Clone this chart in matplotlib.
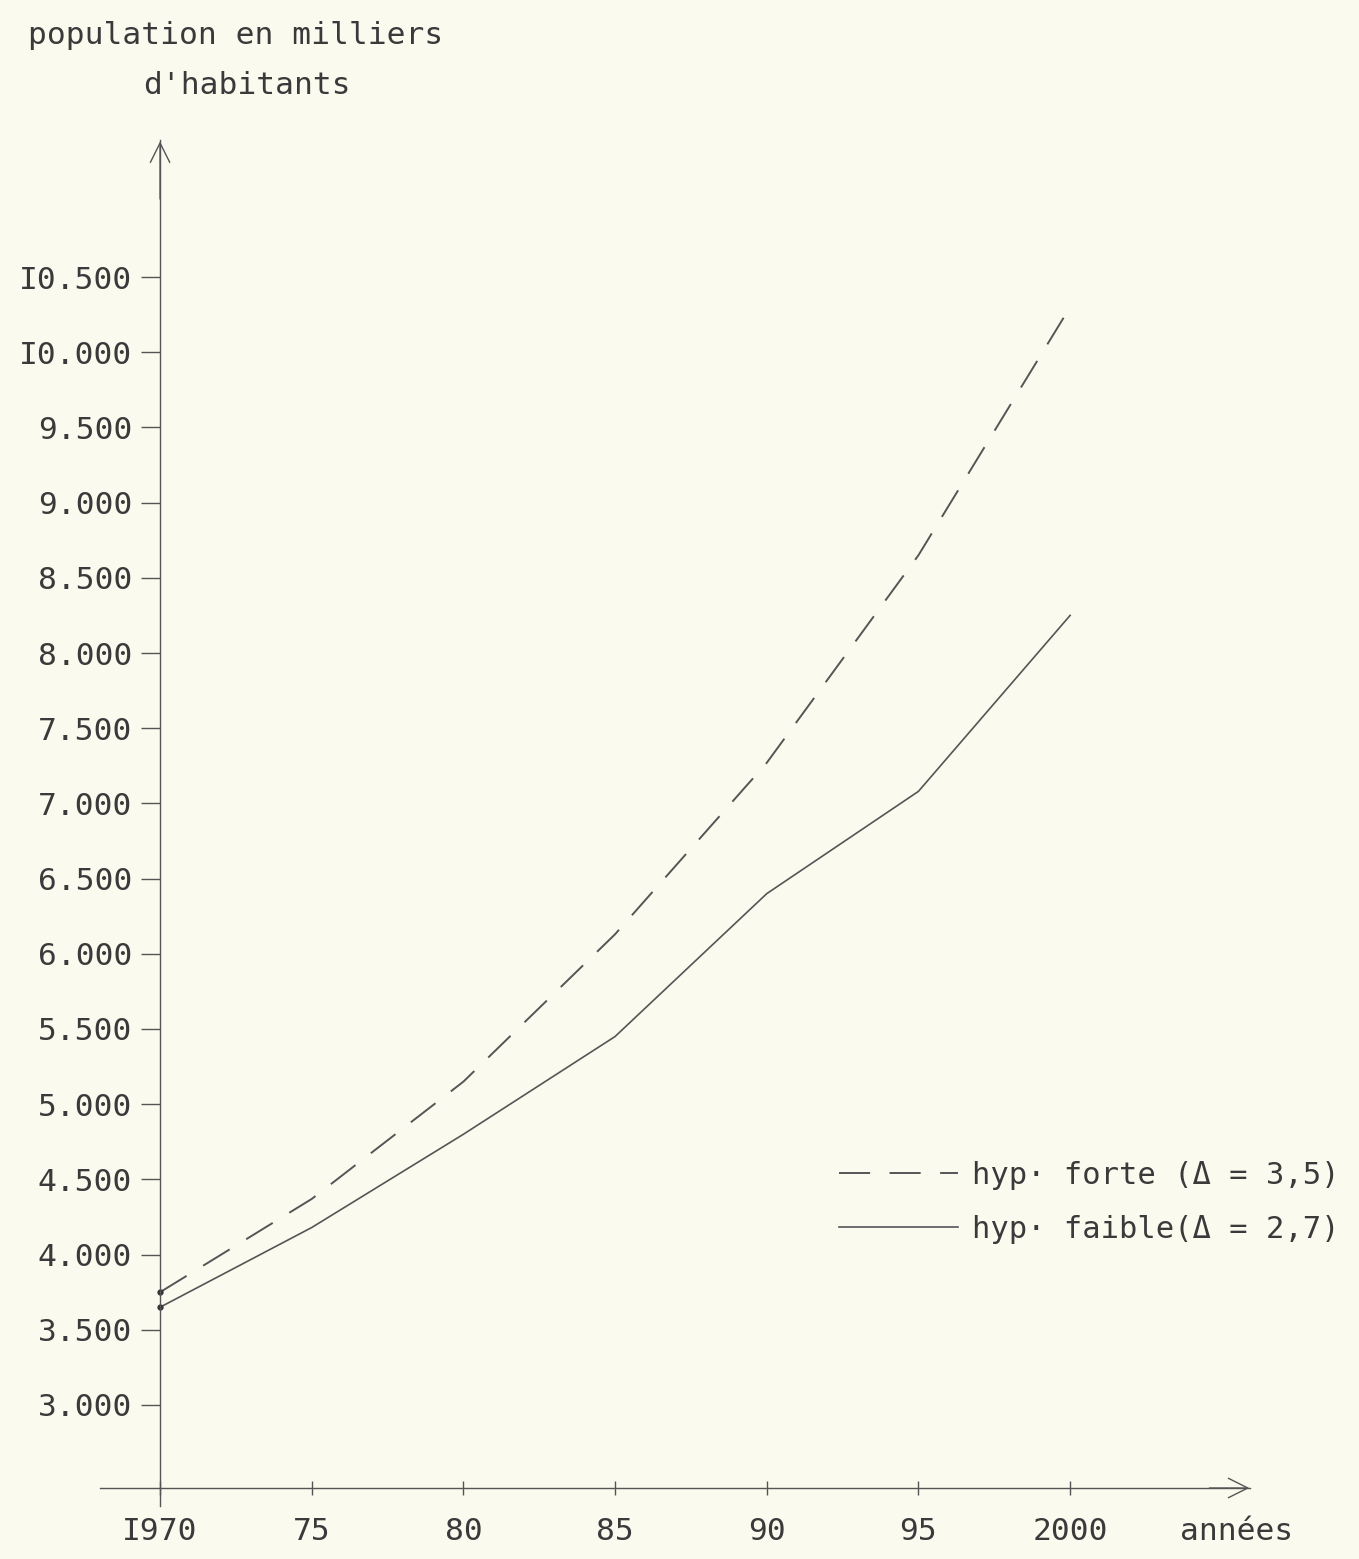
import matplotlib
matplotlib.use('Agg')
import matplotlib.pyplot as plt

# projection de population (milliers d'habitants)
years = [1970, 1975, 1980, 1985, 1990, 1995, 2000]
forte = [3750, 4370, 5150, 6130, 7270, 8650, 10300]
faible = [3650, 4180, 4800, 5450, 6400, 7080, 8250]

xticks = [1970, 1975, 1980, 1985, 1990, 1995, 2000]
xlabels = ["I970", "75", "80", "85", "90", "95", "2000"]
yticks = [3000, 3500, 4000, 4500, 5000, 5500, 6000, 6500, 7000, 7500,
          8000, 8500, 9000, 9500, 10000, 10500]
ylabels = ["3.000", "3.500", "4.000", "4.500", "5.000", "5.500", "6.000", "6.500",
           "7.000", "7.500", "8.000", "8.500", "9.000", "9.500", "I0.000", "I0.500"]

bg = '#fbfaef'
ink = '#3a3a3a'
line_col = '#555555'
font = 'DejaVu Sans Mono'
fs = 22.5

W, H = 1359, 1559
fig = plt.figure(figsize=(W / 100, H / 100), dpi=100)
fig.set_facecolor(bg)

# axes box in pixels: left 100, right 1250, bottom 1488, top 140
ax = fig.add_axes([100 / W, (H - 1488) / H, 1150 / W, (1488 - 140) / H])
ax.set_facecolor(bg)
ax.set_xlim(1968.02, 2005.93)
ax.set_ylim(2448, 11411)

for s in ['top', 'right']:
    ax.spines[s].set_visible(False)
ax.spines['left'].set_position(('data', 1970))
ax.spines['left'].set_color(line_col)
ax.spines['bottom'].set_color(line_col)
ax.spines['left'].set_linewidth(1.0)
ax.spines['bottom'].set_linewidth(1.0)

# axis arrows
arrow = dict(arrowstyle='->, head_length=0.7, head_width=0.35', color=line_col,
             lw=1.0, mutation_scale=20)
ax.annotate('', xy=(1970, 11420), xytext=(1970, 11000),
            arrowprops=arrow, annotation_clip=False)
ax.annotate('', xy=(2006.0, 2448), xytext=(2004.5, 2448),
            arrowprops=arrow, annotation_clip=False)
ax.plot([1970, 1970], [2448, 2330], color=line_col, lw=1.0, clip_on=False)

ax.set_yticks(yticks)
ax.set_yticklabels(ylabels, fontsize=fs, family=font, color=ink)
ax.set_xticks(xticks)
ax.set_xticklabels(xlabels, fontsize=fs, family=font, color=ink)
ax.tick_params(axis='y', direction='out', length=14, width=1.0, color=line_col, pad=6)
ax.tick_params(axis='x', direction='inout', length=10, width=1.0, color=line_col, pad=16)

ax.plot(years, forte, color=line_col, lw=1.4, dashes=(16, 10),
        label="hyp· forte (Δ = 3,5)")
ax.plot(years, faible, color=line_col, lw=1.2,
        label="hyp· faible(Δ = 2,7)")
ax.plot([1970, 1970], [forte[0], faible[0]], 'o', color='#333333', ms=3.5, clip_on=False)

leg = ax.legend(loc='upper left', bbox_to_anchor=(733 / 1150, (1488 - 1155) / 1348),
                frameon=False, handlelength=3.9, handletextpad=0.45,
                labelspacing=0.8, borderpad=0.2, borderaxespad=0.0,
                prop={'family': font, 'size': 22})
for t in leg.get_texts():
    t.set_color(ink)

fig.text(28 / W, 1 - 35 / H, "population en milliers", family=font, fontsize=fs,
         color=ink, va='center', ha='left')
fig.text(143 / W, 1 - 85 / H, "d'habitants", family=font, fontsize=fs,
         color=ink, va='center', ha='left')
fig.text(1180 / W, 1 - 1532 / H, "années", family=font, fontsize=fs,
         color=ink, va='center', ha='left')

fig.savefig('out.png', dpi=100, facecolor=fig.get_facecolor())
